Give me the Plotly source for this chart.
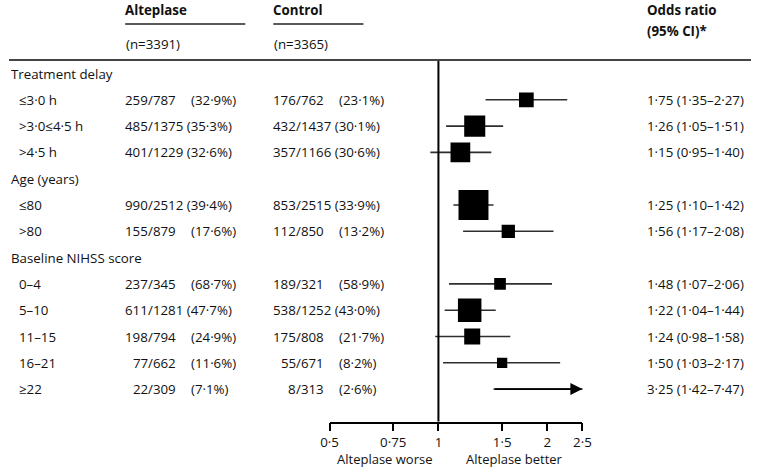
import numpy as np
import plotly.graph_objects as go

# forest plot: alteplase vs control, odds ratio by subgroup

groups = ["Treatment delay", "Age (years)", "Baseline NIHSS score"]
subgroups = [
    ["≤3·0 h", ">3·0≤4·5 h", ">4·5 h"],
    ["≤80", ">80"],
    ["0–4", "5–10", "11–15", "16–21", "≥22"],
]
alt_events = [259, 485, 401, 990, 155, 237, 611, 198, 77, 22]
alt_totals = [787, 1375, 1229, 2512, 879, 345, 1281, 794, 662, 309]
alt_pct = [32.9, 35.3, 32.6, 39.4, 17.6, 68.7, 47.7, 24.9, 11.6, 7.1]
ctl_events = [176, 432, 357, 853, 112, 189, 538, 175, 55, 8]
ctl_totals = [762, 1437, 1166, 2515, 850, 321, 1252, 808, 671, 313]
ctl_pct = [23.1, 30.1, 30.6, 33.9, 13.2, 58.9, 43.0, 21.7, 8.2, 2.6]
odds = [1.75, 1.26, 1.15, 1.25, 1.56, 1.48, 1.22, 1.24, 1.50, 3.25]
ci_low = [1.35, 1.05, 0.95, 1.10, 1.17, 1.07, 1.04, 0.98, 1.03, 1.42]
ci_high = [2.27, 1.51, 1.40, 1.42, 2.08, 2.06, 1.44, 1.58, 2.17, 7.47]
x_ticks = [0.5, 0.75, 1, 1.5, 2, 2.5]
n_alt, n_ctl = 3391, 3365
null_value = 1

W, H = 760, 468
FONT = "Open Sans"
FS = 13.3
INK = "#111111"

# pixel layout of the table
top_px, bot_px = 60, 421.7
row0_px, row_step = 73.5, 26.3
y_top = (top_px - row0_px) / row_step
y_bot = (bot_px - row0_px) / row_step
x_min, x_max = x_ticks[0], x_ticks[-1]


def dot(v, nd=1):
    return f"{v:.{nd}f}".replace(".", "·")


# row index for every header / subgroup line
header_rows = []
sub_rows = []
sub_labels = []
r = 0
for g, subs in zip(groups, subgroups):
    header_rows.append(r)
    r += 1
    for s in subs:
        sub_rows.append(r)
        sub_labels.append(s)
        r += 1

fig = go.Figure()

# confidence intervals
ci_x, ci_y = [], []
for y, lo, hi in zip(sub_rows, ci_low, ci_high):
    ci_x += [lo, hi, None]
    ci_y += [y, y, None]
fig.add_trace(go.Scatter(x=ci_x, y=ci_y, mode="lines",
                         line=dict(color="#2e2e2e", width=1.6),
                         hoverinfo="skip", showlegend=False))

# squares sized by precision (inverse CI width on log scale)
sizes = [7.65 / np.log(hi / lo) for lo, hi in zip(ci_low, ci_high)]
fig.add_trace(go.Scatter(x=odds, y=sub_rows, mode="markers",
                         marker=dict(symbol="square", size=sizes, color="black",
                                     opacity=1, line=dict(width=0)),
                         showlegend=False))

# line of no effect
fig.add_trace(go.Scatter(x=[null_value, null_value], y=[y_top, y_bot], mode="lines",
                         line=dict(color="black", width=2), cliponaxis=False,
                         hoverinfo="skip", showlegend=False))

ann = []


def txt(x_px, y, text, anchor="left", yref="y", bold=False, size=FS, pad=1):
    if bold:
        text = "<b>" + text + "</b>"
    yy = y if yref == "y" else 1 - y / H
    ann.append(dict(x=x_px / W, xref="paper", y=yy,
                    yref="y" if yref == "y" else "paper", text=text,
                    xanchor=anchor, yanchor="middle", showarrow=False,
                    borderpad=pad, borderwidth=0,
                    font=dict(family=FONT, size=size, color=INK)))


# arrows for intervals running past the axis
for y, lo, hi in zip(sub_rows, ci_low, ci_high):
    if hi > x_max:
        ann.append(dict(x=np.log10(x_max), y=y, xref="x", yref="y",
                        ax=np.log10(lo), ay=y, axref="x", ayref="y",
                        showarrow=True, arrowhead=2, arrowsize=1.5,
                        arrowwidth=1.6, arrowcolor="black", text=""))

# headers
txt(119, 9.5, "Alteplase", yref="px", bold=True, pad=0)
txt(270.7, 9.5, "Control", yref="px", bold=True, pad=0)
txt(119, 44, f"(n={n_alt})", yref="px")
txt(270.7, 44, f"(n={n_ctl})", yref="px")
txt(653, 10, "Odds ratio", yref="px", bold=True, pad=0)
txt(653, 31, "(95% CI)*", yref="px", bold=True, pad=0)

for y, g in zip(header_rows, groups):
    txt(1, y, g)

alt_slash, alt_tab = 142.5, 186
ctl_slash, ctl_tab = 293.5, 337.5
for i, y in enumerate(sub_rows):
    txt(9, y, sub_labels[i])
    for ev, tot, pct, slash, tab in [
        (alt_events[i], alt_totals[i], alt_pct[i], alt_slash, alt_tab),
        (ctl_events[i], ctl_totals[i], ctl_pct[i], ctl_slash, ctl_tab),
    ]:
        txt(slash, y, str(ev), anchor="right", pad=0)
        p = f"({dot(pct)}%)"
        if tot >= 1000:
            txt(slash, y, f"/{tot} {p}", pad=0)
        else:
            txt(slash, y, f"/{tot}", pad=0)
            txt(tab, y, p, pad=0)
    txt(653, y, f"{dot(odds[i], 2)} ({dot(ci_low[i], 2)}–{dot(ci_high[i], 2)})", pad=0)

txt(433.3, 459, "Alteplase worse", anchor="right", yref="px", pad=0, size=13)
txt(468.3, 459, "Alteplase better", yref="px", pad=0, size=13)

shapes = [
    dict(type="line", xref="paper", yref="paper", x0=0, x1=1,
         y0=1 - top_px / H, y1=1 - top_px / H, line=dict(color="#444444", width=2)),
    dict(type="line", xref="paper", yref="paper", x0=119 / W, x1=242 / W,
         y0=1 - 24 / H, y1=1 - 24 / H, line=dict(color="#222222", width=1.3)),
    dict(type="line", xref="paper", yref="paper", x0=270.7 / W, x1=363 / W,
         y0=1 - 24 / H, y1=1 - 24 / H, line=dict(color="#222222", width=1.3)),
]

fig.update_layout(
    width=W, height=H,
    margin=dict(l=0, r=0, t=0, b=0),
    paper_bgcolor="white", plot_bgcolor="white",
    font=dict(family=FONT, size=FS, color=INK),
    showlegend=False,
    annotations=ann,
    shapes=shapes,
    xaxis=dict(type="log", range=[np.log10(x_min), np.log10(x_max)],
               domain=[328.3 / W, 587.3 / W],
               tickvals=x_ticks, ticktext=[dot(v, 2).rstrip("0").rstrip("·") for v in x_ticks],
               ticks="outside", ticklen=8, tickwidth=1.5, tickcolor="black",
               showline=True, linecolor="black", linewidth=1.5,
               showgrid=False, zeroline=False, fixedrange=True,
               tickfont=dict(family=FONT, size=FS, color=INK)),
    yaxis=dict(range=[y_bot, y_top], domain=[1 - bot_px / H, 1 - top_px / H],
               visible=False, fixedrange=True),
)

# page body has a default 8px margin; drop it so the figure sits at (0, 0)
fig.write_html("out.html", config={"displayModeBar": False},
               post_script="document.body.style.margin='0px';")
